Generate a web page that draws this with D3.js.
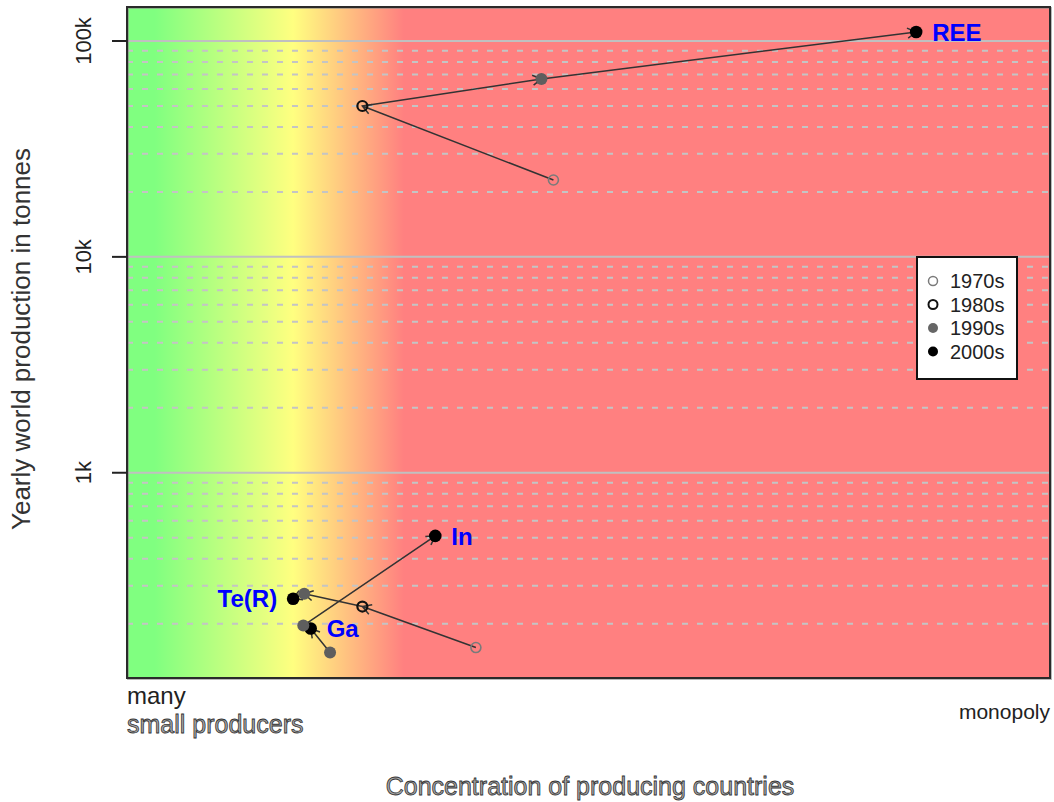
<!DOCTYPE html>
<html>
<head>
<meta charset="utf-8">
<script src="https://cdn.jsdelivr.net/npm/d3@7"></script>
<style>
  html, body { margin: 0; padding: 0; background: #fff; }
  svg { display: block; font-family: "Liberation Sans", Arial, Helvetica, sans-serif; }
</style>
</head>
<body>
<svg id="chart" width="1054" height="802"></svg>
<script>
// Decades shown for each material
const decades = ["1970s", "1980s", "1990s", "2000s"];

// Concentration of producing countries (0 = many small producers, 1 = monopoly)
const reeConc = [0.462, 0.255, 0.449, 0.855];
const teConc  = [0.378, 0.255, 0.192, 0.180];
const gaConc  = [null, null, 0.220, 0.199];
const inConc  = [null, null, 0.191, 0.334];

// Yearly world production in tonnes
const reeProd = [22700, 50000, 66700, 110000];
const teProd  = [155, 240, 275, 261];
const gaProd  = [null, null, 147, 190];
const inProd  = [null, null, 196, 510];

const materials = ["REE", "Te(R)", "Ga", "In"];

// Axis ticks and labels
const yTicks = [1000, 10000, 100000];
const yTickLabels = ["1k", "10k", "100k"];
const yLimits = [112, 143700];

const series = [
  { name: materials[0], conc: reeConc, prod: reeProd, labelSide: "right" },
  { name: materials[1], conc: teConc,  prod: teProd,  labelSide: "left" },
  { name: materials[2], conc: gaConc,  prod: gaProd,  labelSide: "right" },
  { name: materials[3], conc: inConc,  prod: inProd,  labelSide: "right" }
];

const svg = d3.select("#chart");
const plot = { left: 127, right: 1050, top: 7, bottom: 678 };

const x = d3.scaleLinear().domain([0, 1]).range([plot.left, plot.right]);
const y = d3.scaleLog().domain(yLimits).range([plot.bottom, plot.top]);

// Background gradient: green (dispersed) -> yellow -> red (concentrated)
const defs = svg.append("defs");
const grad = defs.append("linearGradient")
  .attr("id", "bg").attr("x1", "0%").attr("x2", "100%").attr("y1", "0%").attr("y2", "0%");
[[0.0, "#80ff80"], [0.03, "#80ff80"], [0.18, "#ffff80"], [0.30, "#ff8080"], [1.0, "#ff8080"]]
  .forEach(([o, c]) => grad.append("stop").attr("offset", o).attr("stop-color", c));

defs.append("clipPath").attr("id", "clip")
  .append("rect").attr("x", plot.left).attr("y", plot.top)
  .attr("width", plot.right - plot.left).attr("height", plot.bottom - plot.top);

svg.append("rect")
  .attr("x", plot.left).attr("y", plot.top)
  .attr("width", plot.right - plot.left).attr("height", plot.bottom - plot.top)
  .attr("fill", "url(#bg)");

const g = svg.append("g").attr("clip-path", "url(#clip)");

// Minor (dashed) and major (solid) grid lines on the log scale
const minor = [];
for (let e = 2; e <= 5; e++) {
  for (let m = 2; m <= 9; m++) minor.push(m * Math.pow(10, e));
}
g.selectAll("line.minor").data(minor.filter(v => v > yLimits[0] && v < yLimits[1]))
  .join("line").attr("class", "minor")
  .attr("x1", plot.left).attr("x2", plot.right)
  .attr("y1", d => y(d)).attr("y2", d => y(d))
  .attr("stroke", "#c4c4c4").attr("stroke-width", 2).attr("stroke-dasharray", "6,9");

g.selectAll("line.major").data(yTicks)
  .join("line").attr("class", "major")
  .attr("x1", plot.left).attr("x2", plot.right)
  .attr("y1", d => y(d)).attr("y2", d => y(d))
  .attr("stroke", "#c0c0c0").attr("stroke-width", 2);

// Trajectory arrows, decade to decade
function arrow(x0, y0, x1, y1) {
  const a = Math.atan2(y1 - y0, x1 - x0);
  const len = 10, ang = Math.PI / 6;
  const p = d3.path();
  p.moveTo(x0, y0); p.lineTo(x1, y1);
  p.moveTo(x1 - len * Math.cos(a - ang), y1 - len * Math.sin(a - ang));
  p.lineTo(x1, y1);
  p.lineTo(x1 - len * Math.cos(a + ang), y1 - len * Math.sin(a + ang));
  return p.toString();
}

const arrows = [];
series.forEach(s => {
  for (let i = 0; i < decades.length - 1; i++) {
    if (s.conc[i] != null && s.conc[i + 1] != null) {
      arrows.push([x(s.conc[i]), y(s.prod[i]), x(s.conc[i + 1]), y(s.prod[i + 1])]);
    }
  }
});
g.selectAll("path.arrow").data(arrows).join("path").attr("class", "arrow")
  .attr("d", d => arrow(...d))
  .attr("fill", "none").attr("stroke", "#333").attr("stroke-width", 1.5);

// Point styles per decade
const pointStyle = [
  { fill: "none", stroke: "#7a7a7a", r: 5, sw: 1.6 },
  { fill: "none", stroke: "#111111", r: 5, sw: 2.2 },
  { fill: "#5e5e5e", stroke: "none", r: 6, sw: 0 },
  { fill: "#000000", stroke: "none", r: 6.3, sw: 0 }
];

const pts = [];
series.forEach(s => {
  s.conc.forEach((c, i) => {
    if (c != null) pts.push({ cx: x(c), cy: y(s.prod[i]), st: pointStyle[i], i });
  });
});
g.selectAll("circle.pt").data(pts).join("circle").attr("class", "pt")
  .attr("cx", d => d.cx).attr("cy", d => d.cy).attr("r", d => d.st.r)
  .attr("fill", d => d.st.fill).attr("stroke", d => d.st.stroke)
  .attr("stroke-width", d => d.st.sw);

// Material labels next to the most recent point
series.forEach(s => {
  const last = s.conc.length - 1;
  const px = x(s.conc[last]), py = y(s.prod[last]);
  svg.append("text")
    .attr("x", s.labelSide === "right" ? px + 16 : px - 16)
    .attr("y", py)
    .attr("dy", "0.36em")
    .attr("text-anchor", s.labelSide === "right" ? "start" : "end")
    .attr("font-size", 24).attr("font-weight", "bold").attr("fill", "#0000ff")
    .text(s.name);
});

// Plot frame
svg.append("rect")
  .attr("x", plot.left + 1).attr("y", plot.top + 1)
  .attr("width", plot.right - plot.left).attr("height", plot.bottom - plot.top)
  .attr("fill", "none").attr("stroke", "#888").attr("stroke-width", 2).attr("opacity", 0.6);
svg.append("rect")
  .attr("x", plot.left).attr("y", plot.top)
  .attr("width", plot.right - plot.left).attr("height", plot.bottom - plot.top)
  .attr("fill", "none").attr("stroke", "#2a2a2a").attr("stroke-width", 2);

// Left axis (log)
const yAxis = d3.axisLeft(y).tickValues(yTicks).tickSize(15)
  .tickFormat((d, i) => yTickLabels[i]);
const ax = svg.append("g").attr("transform", `translate(${plot.left},0)`).call(yAxis);
ax.select(".domain").remove();
ax.selectAll(".tick").attr("transform", "translate(0,0)");
ax.selectAll(".tick line").attr("stroke", "#222").attr("stroke-width", 2)
  .attr("y1", d => y(d)).attr("y2", d => y(d));
ax.selectAll(".tick text")
  .attr("font-size", 22).attr("fill", "#222")
  .attr("text-anchor", "middle")
  .attr("transform", "rotate(-90)")
  .attr("x", d => -y(d))
  .attr("y", -44)
  .attr("dy", "0.36em");

// Axis titles and end labels
svg.append("text")
  .attr("transform", `translate(30,339) rotate(-90)`)
  .attr("text-anchor", "middle").attr("font-size", 26).attr("fill", "#333")
  .text("Yearly world production in tonnes");

svg.append("text").attr("x", plot.left).attr("y", 704)
  .attr("font-size", 24).attr("fill", "#222").text("many");
svg.append("text").attr("x", plot.left).attr("y", 733)
  .attr("font-size", 25).attr("fill", "#a8a8a8").attr("stroke", "#333").attr("stroke-width", 0.8)
  .text("small producers");
svg.append("text").attr("x", plot.right).attr("y", 719)
  .attr("text-anchor", "end").attr("font-size", 21).attr("fill", "#222").text("monopoly");

svg.append("text").attr("x", 590).attr("y", 795)
  .attr("text-anchor", "middle").attr("font-size", 25)
  .attr("fill", "#a8a8a8").attr("stroke", "#333").attr("stroke-width", 0.8)
  .text("Concentration of producing countries");

// Legend
const lg = svg.append("g").attr("transform", "translate(917,257)");
lg.append("rect").attr("width", 100).attr("height", 122)
  .attr("fill", "#fff").attr("stroke", "#111").attr("stroke-width", 2);
const legendStyle = [
  { fill: "#fff", stroke: "#7a7a7a", r: 4.5, sw: 1.5 },
  { fill: "#fff", stroke: "#111", r: 4.5, sw: 2 },
  { fill: "#666", stroke: "none", r: 5, sw: 0 },
  { fill: "#000", stroke: "none", r: 5, sw: 0 }
];
decades.forEach((d, i) => {
  const row = lg.append("g").attr("transform", `translate(0,${24 + i * 23.5})`);
  row.append("circle").attr("cx", 16).attr("cy", 0).attr("r", legendStyle[i].r)
    .attr("fill", legendStyle[i].fill).attr("stroke", legendStyle[i].stroke)
    .attr("stroke-width", legendStyle[i].sw);
  row.append("text").attr("x", 33).attr("y", 0).attr("dy", "0.36em")
    .attr("font-size", 20).attr("fill", "#222").text(d);
});
</script>
</body>
</html>
